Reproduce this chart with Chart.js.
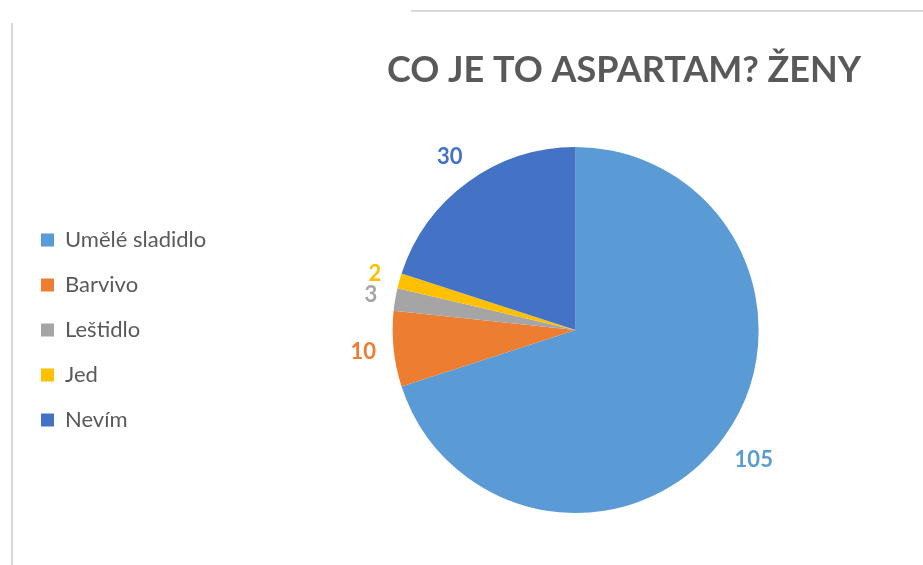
<!DOCTYPE html>
<html>
<head>
<meta charset="utf-8">
<script src="https://cdn.jsdelivr.net/npm/chart.js@4/dist/chart.umd.min.js"></script>
<style>
    html, body { margin: 0; padding: 0; background: #fff; }
    #wrap { width: 923px; height: 565px; position: relative; }
</style>
</head>
<body>
<div id="wrap"><canvas id="chart"></canvas></div>
<script>
var chartTitle = "CO JE TO ASPARTAM? ŽENY";
var categories = ["Umělé sladidlo", "Barvivo", "Leštidlo", "Jed", "Nevím"];
var counts = [105, 10, 3, 2, 30];
var sliceColors = ['#5B9BD5', '#ED7D31', '#A5A5A5', '#FFC000', '#4472C4'];

// widen the legend box a bit so the pie sits further right
var legendGap = {
    id: 'legendGap',
    beforeInit: function (chart) {
        var origFit = chart.legend.fit;
        chart.legend.fit = function () {
            origFit.call(this);
            this.width += 12;
        };
    }
};

// title, frame lines and outside-end value labels
var decorPlugin = {
    id: 'decor',
    afterDraw: function (chart) {
        var ctx = chart.ctx;
        ctx.save();
        ctx.strokeStyle = '#d9d9d9';
        ctx.lineWidth = 2;
        ctx.beginPath();
        ctx.moveTo(411, 11); ctx.lineTo(923, 11);
        ctx.moveTo(12, 23); ctx.lineTo(12, 565);
        ctx.stroke();

        ctx.fillStyle = '#595959';
        ctx.font = 'bold 36px Lato';
        ctx.textAlign = 'center';
        ctx.textBaseline = 'alphabetic';
        ctx.fillText(chartTitle, 624, 82);

        var meta = chart.getDatasetMeta(0);
        ctx.font = 'bold 22px Lato';
        ctx.textBaseline = 'middle';
        meta.data.forEach(function (arc, i) {
            var mid = (arc.startAngle + arc.endAngle) / 2;
            var text = String(counts[i]);
            var w = ctx.measureText(text).width;
            var h = 16;
            var c = Math.cos(mid), s = Math.sin(mid);
            var d = arc.outerRadius + 17 + Math.abs(c) * w / 2 + Math.abs(s) * h / 2;
            ctx.fillStyle = sliceColors[i];
            ctx.fillText(text, arc.x + c * d, arc.y + s * d);
        });
        ctx.restore();
    }
};

var ctxChart = document.getElementById('chart').getContext('2d');
var chart = new Chart(ctxChart, {
    type: 'pie',
    plugins: [legendGap, decorPlugin],
    data: {
        labels: categories,
        datasets: [{
            data: counts,
            backgroundColor: sliceColors,
            borderWidth: 0
        }]
    },
    options: {
        responsive: true,
        maintainAspectRatio: false,
        animation: false,
        layout: { padding: { top: 147, bottom: 52, left: 18, right: 0 } },
        plugins: {
            title: { display: false },
            tooltip: { enabled: false },
            legend: {
                position: 'left',
                labels: {
                    font: { family: 'Lato', size: 22 },
                    color: '#595959',
                    boxWidth: 13,
                    boxHeight: 13,
                    padding: 23
                }
            }
        }
    }
});
</script>
</body>
</html>
